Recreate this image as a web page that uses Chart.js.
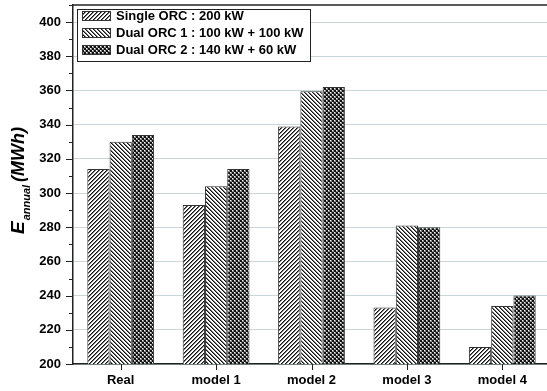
<!DOCTYPE html>
<html>
<head>
<meta charset="utf-8">
<script src="https://cdn.jsdelivr.net/npm/chart.js@4.4.0/dist/chart.umd.min.js"></script>
<style>
  html, body { margin: 0; padding: 0; overflow: hidden; background: #fff; }
  canvas { display: block; }
</style>
</head>
<body>
<canvas id="chart" width="553" height="391"></canvas>
<script>
const categories = ['Real', 'model 1', 'model 2', 'model 3', 'model 4'];
const seriesLabels = ['Single ORC : 200 kW', 'Dual ORC 1 : 100 kW + 100 kW', 'Dual ORC 2 : 140 kW + 60 kW'];
const singleOrc = [314, 293, 339, 233, 210];
const dualOrc1 = [330, 304, 359.5, 281, 234];
const dualOrc2 = [334, 314, 362, 280, 240];
const yMin = 200, yMax = 410, yLabelStep = 20, yGridStep = 10;

const FONT = "'Liberation Sans', Arial, sans-serif";

// hatch fills built from small tiles
function makePattern(kind) {
  const t = document.createElement('canvas');
  t.width = 4; t.height = 4;
  const c = t.getContext('2d');
  c.fillStyle = '#fff';
  c.fillRect(0, 0, 4, 4);
  for (let py = 0; py < 4; py++) {
    for (let px = 0; px < 4; px++) {
      let shade = null;
      if (kind === 'fwd') {
        const k = (px + py) % 4;
        if (k === 0) shade = '#111'; else if (k === 1) shade = '#777';
      } else if (kind === 'back') {
        const k = (px - py + 8) % 4;
        if (k === 0) shade = '#111'; else if (k === 1) shade = '#777';
      } else {
        const on = ((px >> 1) + (py >> 1)) % 2 === 0;
        shade = on ? '#111' : ((px % 2 === 0 && py % 2 === 0) ? '#fff' : '#888');
      }
      if (shade) { c.fillStyle = shade; c.fillRect(px, py, 1, 1); }
    }
  }
  return document.getElementById('chart').getContext('2d').createPattern(t, 'repeat');
}

const fills = [makePattern('fwd'), makePattern('back'), makePattern('cross')];
const seriesValues = [singleOrc, dualOrc1, dualOrc2];

const decor = {
  id: 'decor',
  afterDraw(chart) {
    const { ctx, chartArea: a, scales: { x, y } } = chart;
    ctx.save();
    // top frame line
    ctx.strokeStyle = '#222';
    ctx.lineWidth = 1.5;
    ctx.beginPath();
    ctx.moveTo(a.left, a.top);
    ctx.lineTo(a.right, a.top);
    ctx.stroke();

    // outward ticks on y (major / minor) and x
    ctx.lineWidth = 1;
    for (let v = yMin; v <= yMax; v += yGridStep) {
      const py = Math.round(y.getPixelForValue(v)) + 0.5;
      const len = v % yLabelStep === 0 ? 7 : 4;
      ctx.beginPath();
      ctx.moveTo(a.left - len, py);
      ctx.lineTo(a.left, py);
      ctx.stroke();
    }
    categories.forEach((c, i) => {
      const px = Math.round(x.getPixelForValue(i)) + 0.5;
      ctx.beginPath();
      ctx.moveTo(px, a.bottom);
      ctx.lineTo(px, a.bottom + 6);
      ctx.stroke();
    });

    // legend box
    const lx = 77, ly = 9, lw = 233, lh = 52;
    ctx.fillStyle = '#fff';
    ctx.fillRect(lx, ly, lw, lh);
    ctx.strokeStyle = '#222';
    ctx.strokeRect(lx + 0.5, ly + 0.5, lw, lh);
    ctx.font = 'bold 13px ' + FONT;
    ctx.textBaseline = 'middle';
    ctx.textAlign = 'left';
    chart.data.datasets.forEach((ds, i) => {
      const cy = 15.5 + i * 17;
      ctx.fillStyle = ds.backgroundColor;
      ctx.fillRect(82, cy - 4.5, 28, 9);
      ctx.strokeStyle = '#333';
      ctx.strokeRect(82.5, cy - 4, 28, 9);
      ctx.fillStyle = '#000';
      ctx.fillText(ds.label, 116, cy + 0.5);
    });

    // y title: E_annual (MWh)
    ctx.translate(24, 234);
    ctx.rotate(-Math.PI / 2);
    ctx.textBaseline = 'alphabetic';
    ctx.fillStyle = '#000';
    ctx.font = 'italic bold 19px ' + FONT;
    ctx.fillText('E', 0, 0);
    let off = ctx.measureText('E').width + 1;
    ctx.font = 'italic bold 11px ' + FONT;
    ctx.fillText('annual', off, 6);
    off += ctx.measureText('annual').width + 3;
    ctx.font = 'italic bold 18px ' + FONT;
    ctx.fillText('(MWh)', off, 0);
    ctx.restore();
  }
};

new Chart(document.getElementById('chart'), {
  type: 'bar',
  data: {
    labels: categories,
    datasets: seriesLabels.map((label, i) => ({
      label,
      data: seriesValues[i],
      backgroundColor: fills[i],
      borderColor: '#333',
      borderWidth: 1,
      borderSkipped: 'bottom',
      barPercentage: 1,
      categoryPercentage: 0.7
    }))
  },
  options: {
    responsive: false,
    animation: false,
    layout: { padding: { top: 5, right: 3, left: 0, bottom: 0 } },
    plugins: { legend: { display: false }, tooltip: { enabled: false } },
    scales: {
      x: {
        grid: { display: false, drawTicks: false },
        border: { color: '#222', width: 1.5 },
        ticks: { color: '#000', font: { family: FONT, size: 13, weight: 'bold' }, padding: 9, maxRotation: 0 },
        afterFit(scale) {
          scale.height = 27;
          scale.paddingLeft = 0;
          scale.paddingRight = 0;
        }
      },
      y: {
        min: yMin,
        max: yMax,
        grid: { color: '#c9d7da', lineWidth: 1, drawTicks: false },
        border: { color: '#222', width: 1.5 },
        ticks: {
          stepSize: yGridStep,
          color: '#000',
          padding: 12,
          font: { family: FONT, size: 13, weight: 'bold' },
          callback: v => (v % yLabelStep === 0 && v <= 400) ? v : ''
        },
        afterFit(scale) {
          scale.width = 73;
          scale.paddingTop = 0;
          scale.paddingBottom = 0;
        }
      }
    }
  },
  plugins: [decor]
});
</script>
</body>
</html>
